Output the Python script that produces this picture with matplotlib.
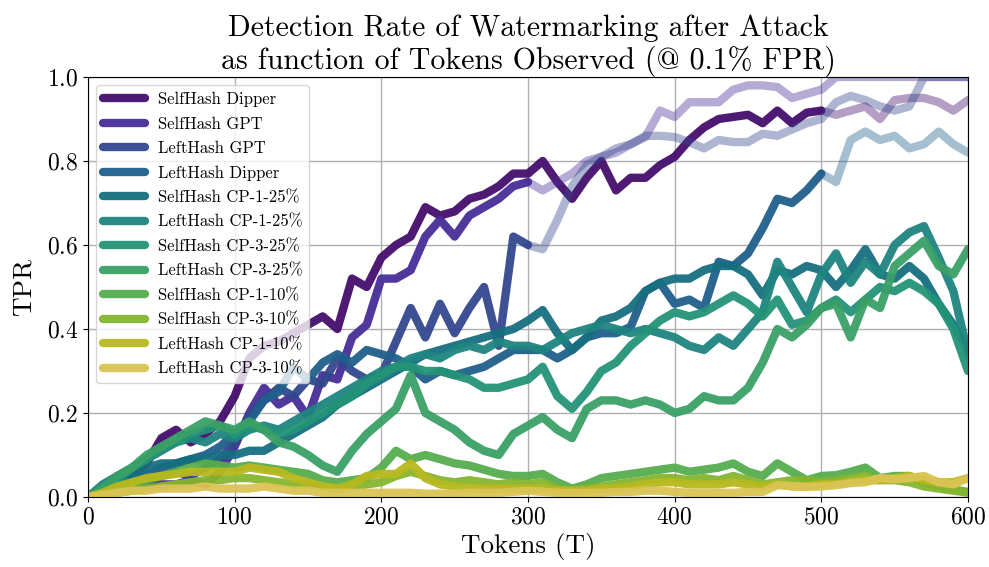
import numpy as np
import matplotlib
matplotlib.use("Agg")
import matplotlib.pyplot as plt

plt.rcParams["font.family"] = ["cmr10", "DejaVu Serif"]
plt.rcParams["mathtext.fontset"] = "cm"
plt.rcParams["axes.formatter.use_mathtext"] = True

# ---------------- data (TPR sampled every 10 tokens) ----------------
tokens = np.arange(0, 601, 10)

labels = [
    "SelfHash Dipper", "SelfHash GPT", "LeftHash GPT", "LeftHash Dipper",
    "SelfHash CP-1-25%", "LeftHash CP-1-25%", "SelfHash CP-3-25%", "LeftHash CP-3-25%",
    "SelfHash CP-1-10%", "SelfHash CP-3-10%", "LeftHash CP-1-10%", "LeftHash CP-3-10%",
]
colors = [
    "#440d6c", "#482d98", "#33478e", "#1f5f8b", "#166f80", "#1e8580",
    "#239477", "#3aa066", "#56ad4e", "#85b52e", "#b8b91e", "#dbc453",
]
# token count after which each curve is drawn faded
solid_until = [500, 300, 300, 500, 600, 600, 600, 600, 600, 600, 600, 600]

selfhash_dipper = [
    0.0, 0.02, 0.05, 0.05, 0.08, 0.14, 0.16, 0.13, 0.15, 0.18,
    0.24, 0.33, 0.36, 0.37, 0.39, 0.41, 0.43, 0.40, 0.52, 0.50,
    0.57, 0.60, 0.62, 0.69, 0.67, 0.68, 0.71, 0.72, 0.74, 0.77,
    0.77, 0.80, 0.75, 0.71, 0.76, 0.80, 0.73, 0.76, 0.76, 0.79,
    0.81, 0.85, 0.88, 0.90, 0.905, 0.91, 0.89, 0.92, 0.89, 0.915,
    0.92, 0.91, 0.92, 0.93, 0.90, 0.945, 0.95, 0.95, 0.94, 0.92, 0.945,
]
selfhash_gpt = [
    0.0, 0.01, 0.02, 0.02, 0.03, 0.03, 0.03, 0.04, 0.03, 0.06,
    0.12, 0.20, 0.26, 0.22, 0.24, 0.19, 0.29, 0.28, 0.38, 0.41,
    0.52, 0.52, 0.54, 0.62, 0.66, 0.62, 0.67, 0.69, 0.71, 0.74,
    0.75, 0.73, 0.75, 0.77, 0.80, 0.81, 0.82, 0.84, 0.857, 0.92,
    0.905, 0.94, 0.94, 0.94, 0.97, 0.98, 0.98, 0.976, 0.95, 0.96,
    0.97, 1.0, 1.0, 1.0, 1.0, 1.0, 1.0, 1.0, 1.0, 1.0, 1.0,
]
lefthash_gpt = [
    0.0, 0.01, 0.02, 0.03, 0.04, 0.05, 0.06, 0.05, 0.07, 0.09,
    0.13, 0.19, 0.23, 0.26, 0.24, 0.28, 0.27, 0.33, 0.30, 0.28,
    0.29, 0.37, 0.45, 0.38, 0.46, 0.39, 0.45, 0.50, 0.36, 0.62,
    0.60, 0.59, 0.66, 0.74, 0.79, 0.81, 0.83, 0.84, 0.86, 0.86,
    0.857, 0.845, 0.83, 0.85, 0.845, 0.845, 0.865, 0.86, 0.875, 0.89,
    0.90, 0.94, 0.955, 0.945, 0.93, 0.92, 0.93, 1.0, 1.0, 1.0, 1.0,
]
lefthash_dipper = [
    0.0, 0.01, 0.02, 0.04, 0.05, 0.07, 0.08, 0.09, 0.10, 0.12,
    0.15, 0.18, 0.23, 0.25, 0.31, 0.28, 0.32, 0.34, 0.32, 0.35,
    0.34, 0.33, 0.31, 0.28, 0.30, 0.29, 0.30, 0.31, 0.33, 0.35,
    0.35, 0.35, 0.33, 0.35, 0.38, 0.39, 0.39, 0.405, 0.49, 0.51,
    0.46, 0.47, 0.45, 0.56, 0.55, 0.58, 0.64, 0.71, 0.70, 0.73,
    0.77, 0.75, 0.85, 0.87, 0.85, 0.86, 0.83, 0.84, 0.87, 0.84, 0.82,
]
selfhash_cp1_25 = [
    0.0, 0.02, 0.04, 0.05, 0.07, 0.08, 0.08, 0.09, 0.09, 0.10,
    0.10, 0.11, 0.11, 0.13, 0.15, 0.17, 0.19, 0.22, 0.24, 0.26,
    0.28, 0.30, 0.32, 0.34, 0.35, 0.36, 0.37, 0.38, 0.39, 0.40,
    0.42, 0.445, 0.39, 0.35, 0.38, 0.42, 0.43, 0.45, 0.49, 0.51,
    0.52, 0.52, 0.54, 0.55, 0.55, 0.53, 0.48, 0.54, 0.53, 0.55,
    0.54, 0.50, 0.54, 0.59, 0.53, 0.52, 0.55, 0.52, 0.46, 0.41, 0.35,
]
lefthash_cp1_25 = [
    0.0, 0.03, 0.05, 0.07, 0.09, 0.11, 0.13, 0.14, 0.13, 0.15,
    0.14, 0.16, 0.17, 0.16, 0.18, 0.20, 0.22, 0.24, 0.26, 0.28,
    0.30, 0.31, 0.33, 0.34, 0.33, 0.35, 0.36, 0.35, 0.37, 0.36,
    0.36, 0.35, 0.37, 0.39, 0.40, 0.41, 0.40, 0.39, 0.40, 0.39,
    0.38, 0.36, 0.35, 0.38, 0.36, 0.40, 0.44, 0.56, 0.50, 0.44,
    0.53, 0.58, 0.51, 0.56, 0.53, 0.60, 0.63, 0.645, 0.57, 0.49, 0.34,
]
selfhash_cp3_25 = [
    0.0, 0.02, 0.04, 0.07, 0.09, 0.12, 0.13, 0.15, 0.16, 0.17,
    0.15, 0.17, 0.16, 0.15, 0.16, 0.18, 0.20, 0.22, 0.24, 0.27,
    0.29, 0.31, 0.31, 0.30, 0.30, 0.29, 0.28, 0.26, 0.26, 0.27,
    0.28, 0.31, 0.24, 0.21, 0.25, 0.30, 0.32, 0.36, 0.39, 0.42,
    0.44, 0.43, 0.44, 0.46, 0.48, 0.46, 0.43, 0.47, 0.41, 0.42,
    0.45, 0.47, 0.44, 0.47, 0.50, 0.49, 0.51, 0.49, 0.46, 0.40, 0.30,
]
lefthash_cp3_25 = [
    0.0, 0.02, 0.05, 0.07, 0.10, 0.12, 0.14, 0.16, 0.18, 0.17,
    0.16, 0.18, 0.16, 0.13, 0.12, 0.10, 0.075, 0.06, 0.11, 0.15,
    0.18, 0.21, 0.29, 0.20, 0.18, 0.16, 0.13, 0.11, 0.10, 0.15,
    0.17, 0.19, 0.16, 0.14, 0.21, 0.23, 0.23, 0.22, 0.23, 0.22,
    0.20, 0.21, 0.24, 0.23, 0.23, 0.26, 0.32, 0.40, 0.38, 0.41,
    0.45, 0.46, 0.38, 0.47, 0.45, 0.55, 0.58, 0.61, 0.55, 0.53, 0.59,
]
selfhash_cp1_10 = [
    0.0, 0.01, 0.02, 0.03, 0.04, 0.05, 0.06, 0.07, 0.08, 0.075,
    0.07, 0.075, 0.07, 0.065, 0.06, 0.055, 0.04, 0.035, 0.04, 0.045,
    0.07, 0.11, 0.09, 0.10, 0.09, 0.08, 0.075, 0.065, 0.055, 0.05,
    0.05, 0.055, 0.035, 0.02, 0.03, 0.045, 0.05, 0.055, 0.06, 0.065,
    0.07, 0.06, 0.065, 0.07, 0.08, 0.06, 0.05, 0.08, 0.06, 0.04,
    0.05, 0.052, 0.06, 0.07, 0.045, 0.05, 0.05, 0.035, 0.025, 0.018, 0.012,
]
selfhash_cp3_10 = [
    0.0, 0.005, 0.01, 0.015, 0.02, 0.025, 0.03, 0.035, 0.04, 0.04,
    0.045, 0.045, 0.04, 0.035, 0.03, 0.03, 0.025, 0.02, 0.025, 0.03,
    0.035, 0.05, 0.06, 0.05, 0.04, 0.035, 0.04, 0.035, 0.03, 0.035,
    0.03, 0.035, 0.02, 0.015, 0.02, 0.025, 0.03, 0.035, 0.04, 0.045,
    0.045, 0.04, 0.045, 0.04, 0.05, 0.04, 0.03, 0.035, 0.04, 0.04,
    0.035, 0.04, 0.045, 0.05, 0.04, 0.04, 0.035, 0.025, 0.02, 0.015, 0.01,
]
lefthash_cp1_10 = [
    0.0, 0.01, 0.025, 0.035, 0.045, 0.05, 0.055, 0.06, 0.06, 0.06,
    0.06, 0.07, 0.065, 0.06, 0.045, 0.035, 0.025, 0.02, 0.03, 0.05,
    0.055, 0.055, 0.08, 0.045, 0.03, 0.025, 0.022, 0.02, 0.02, 0.02,
    0.02, 0.02, 0.015, 0.015, 0.015, 0.02, 0.02, 0.025, 0.03, 0.035,
    0.035, 0.03, 0.03, 0.03, 0.035, 0.03, 0.025, 0.03, 0.025, 0.025,
    0.03, 0.03, 0.035, 0.04, 0.04, 0.045, 0.05, 0.04, 0.035, 0.035, 0.045,
]
lefthash_cp3_10 = [
    0.0, 0.005, 0.01, 0.015, 0.015, 0.02, 0.02, 0.02, 0.025, 0.02,
    0.02, 0.02, 0.025, 0.02, 0.015, 0.015, 0.01, 0.01, 0.01, 0.01,
    0.01, 0.01, 0.01, 0.008, 0.008, 0.008, 0.01, 0.01, 0.01, 0.012,
    0.015, 0.012, 0.01, 0.01, 0.01, 0.01, 0.012, 0.012, 0.015, 0.015,
    0.012, 0.01, 0.01, 0.01, 0.01, 0.012, 0.012, 0.028, 0.026, 0.024,
    0.025, 0.028, 0.033, 0.035, 0.045, 0.042, 0.045, 0.05, 0.035, 0.03, 0.045,
]

series = [
    selfhash_dipper, selfhash_gpt, lefthash_gpt, lefthash_dipper,
    selfhash_cp1_25, lefthash_cp1_25, selfhash_cp3_25, lefthash_cp3_25,
    selfhash_cp1_10, selfhash_cp3_10, lefthash_cp1_10, lefthash_cp3_10,
]

# ---------------- figure ----------------
fig = plt.figure(figsize=(9.89, 5.67), dpi=100)
ax = fig.add_axes([0.089, 0.1235, 0.8898, 0.7407])

LW = 6
for lab, col, vals, cut in zip(labels, colors, series, solid_until):
    vals = np.asarray(vals)
    solid = tokens <= cut
    ax.plot(tokens[solid], vals[solid], color=col, lw=LW, alpha=0.95,
            label=lab, solid_joinstyle="round", solid_capstyle="round")
    if cut < tokens[-1]:
        faded = tokens >= cut
        ax.plot(tokens[faded], vals[faded], color=col, lw=LW, alpha=0.4,
                solid_joinstyle="round", solid_capstyle="round")

ax.set_xlim(0, 600)
ax.set_ylim(0, 1.0)
ax.set_xticks(np.arange(0, 601, 100))
ax.set_yticks(np.arange(0, 1.01, 0.2))
ax.tick_params(labelsize=17)
ax.grid(True, color="#b0b0b0", lw=1.0)

ax.set_xlabel("Tokens (T)", fontsize=19.5, labelpad=3)
ax.set_ylabel("TPR", fontsize=19.5, labelpad=8)
ax.set_title("Detection Rate of Watermarking after Attack\n"
             "as function of Tokens Observed (@ 0.1% FPR)",
             fontsize=21.5, pad=5, linespacing=1.15)

ax.legend(loc="upper left", fontsize=12, handlelength=2.5,
          labelspacing=0.55, borderaxespad=0.5)

fig.savefig("out.png", dpi=100, facecolor="white")
